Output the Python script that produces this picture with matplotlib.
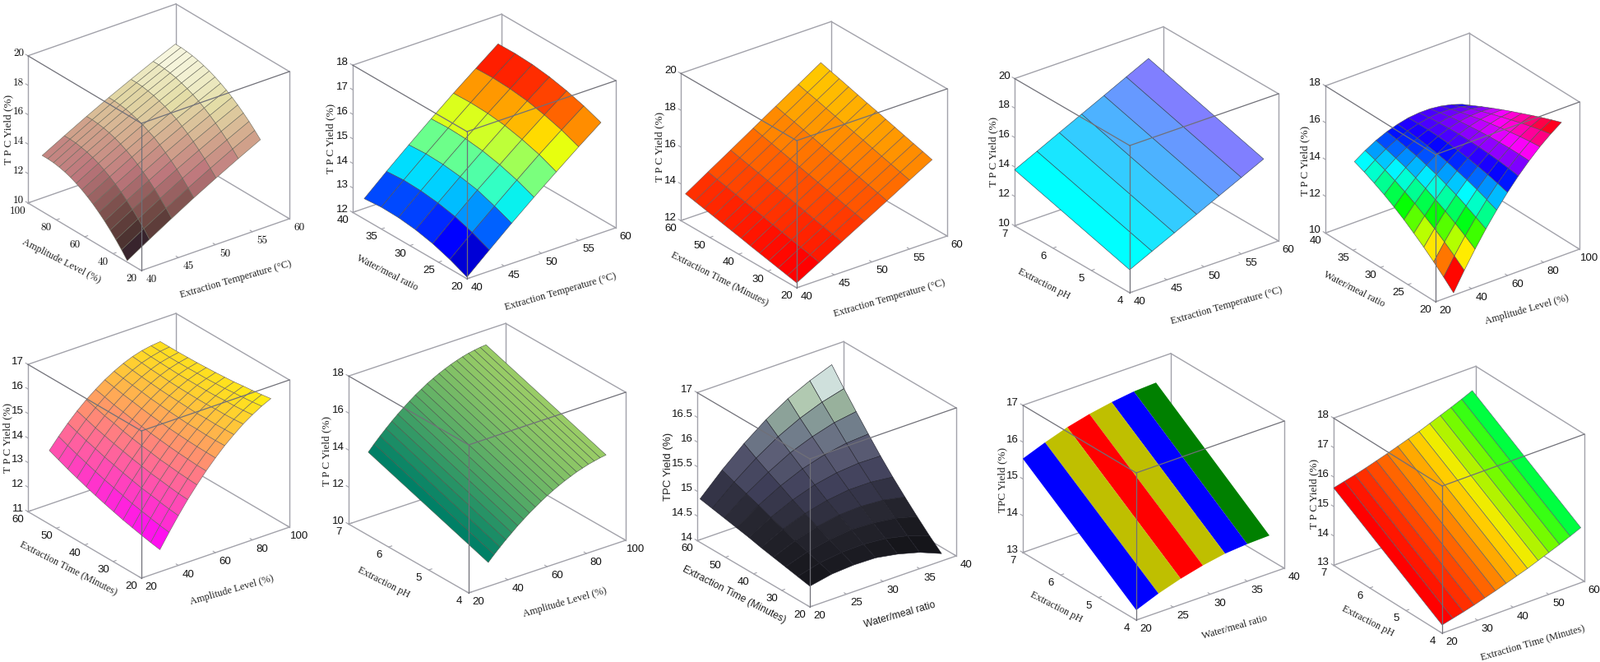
import numpy as np
import matplotlib
matplotlib.use('Agg')
import matplotlib.pyplot as plt
from matplotlib.colors import LinearSegmentedColormap, ListedColormap, Normalize, BoundaryNorm
from mpl_toolkits.mplot3d import proj3d

W, H = 1946, 805
CMR = ['cmr10', 'DejaVu Serif']
SERIF = ['Liberation Serif', 'DejaVu Serif']
SANS = ['Liberation Sans', 'DejaVu Sans']

TEMP = 'Extraction Temperature (°C)'
AMP = 'Amplitude Level (%)'
WATER = 'Water/meal ratio'
TIME = 'Extraction Time (Minutes)'
PH = 'Extraction pH'
ZLAB = 'T P C Yield (%)'

# ---- surface values, rows = y, columns = x ----
x1 = [40, 43, 46, 49, 52, 55, 58]
y1 = [30, 34, 38, 42, 46, 50, 54, 58, 62, 66, 70, 74, 78, 82, 86, 90]
z1 = [[10.10, 11.02, 11.91, 12.78, 13.60, 14.39, 15.15],
      [10.60, 11.51, 12.38, 13.22, 14.03, 14.81, 15.55],
      [11.06, 11.95, 12.81, 13.65, 14.44, 15.20, 15.93],
      [11.48, 12.36, 13.21, 14.03, 14.80, 15.55, 16.27],
      [11.87, 12.74, 13.57, 14.38, 15.15, 15.88, 16.59],
      [12.22, 13.08, 13.90, 14.70, 15.46, 16.18, 16.88],
      [12.54, 13.39, 14.20, 15.00, 15.74, 16.45, 17.14],
      [12.82, 13.66, 14.47, 15.27, 16.00, 16.69, 17.37],
      [13.07, 13.90, 14.70, 15.47, 16.20, 16.90, 17.57],
      [13.28, 14.11, 14.90, 15.67, 16.39, 17.08, 17.75],
      [13.46, 14.28, 15.07, 15.82, 16.54, 17.23, 17.89],
      [13.60, 14.42, 15.20, 15.95, 16.67, 17.36, 18.01],
      [13.70, 14.51, 15.30, 16.05, 16.76, 17.45, 18.10],
      [13.77, 14.58, 15.36, 16.11, 16.83, 17.51, 18.16],
      [13.80, 14.61, 15.40, 16.15, 16.86, 17.55, 18.20],
      [13.80, 14.61, 15.40, 16.15, 16.86, 17.55, 18.20]]

x2 = [40, 43, 46, 49, 52, 55, 58]
y2 = [20, 23, 26, 29, 32, 35, 38]
z2 = [[12.07, 12.86, 13.64, 14.39, 15.11, 15.82, 16.50],
      [12.38, 13.17, 13.93, 14.68, 15.41, 16.10, 16.77],
      [12.62, 13.41, 14.18, 14.90, 15.62, 16.31, 16.98],
      [12.78, 13.56, 14.32, 15.06, 15.78, 16.47, 17.14],
      [12.87, 13.65, 14.41, 15.15, 15.87, 16.56, 17.24],
      [12.89, 13.68, 14.44, 15.18, 15.90, 16.60, 17.28],
      [12.83, 13.63, 14.40, 15.15, 15.88, 16.58, 17.27]]

x3 = [40, 43, 46, 49, 52, 55, 58]
y3 = [20, 23.2, 26.4, 29.6, 32.8, 36, 39.2, 42.4, 45.6, 48.8, 52, 55.2, 58.4]
z3 = [[12.27, 12.96, 13.66, 14.35, 15.04, 15.74, 16.43],
      [12.38, 13.08, 13.78, 14.48, 15.18, 15.88, 16.58],
      [12.49, 13.20, 13.90, 14.61, 15.31, 16.02, 16.72],
      [12.60, 13.31, 14.02, 14.74, 15.45, 16.16, 16.87],
      [12.71, 13.43, 14.15, 14.87, 15.58, 16.30, 17.02],
      [12.82, 13.55, 14.27, 15.00, 15.72, 16.45, 17.17],
      [12.94, 13.67, 14.40, 15.13, 15.86, 16.59, 17.32],
      [13.05, 13.79, 14.52, 15.26, 15.99, 16.73, 17.46],
      [13.16, 13.90, 14.64, 15.39, 16.13, 16.87, 17.61],
      [13.27, 14.02, 14.77, 15.52, 16.26, 17.01, 17.76],
      [13.38, 14.14, 14.89, 15.65, 16.40, 17.16, 17.91],
      [13.49, 14.25, 15.01, 15.77, 16.53, 17.29, 18.05],
      [13.60, 14.37, 15.13, 15.90, 16.67, 17.43, 18.20]]

x4 = [40, 43, 46, 49, 52, 55, 58]
y4 = [4, 7]
z4 = [[11.56, 12.29, 13.01, 13.74, 14.47, 15.19, 15.92],
      [13.80, 14.53, 15.27, 16.00, 16.73, 17.47, 18.20]]

x5 = [30, 36, 42, 48, 54, 60, 66, 72, 78, 84, 90]
y5 = [20, 21.8, 23.6, 25.4, 27.2, 29, 30.8, 32.6, 34.4, 36.2, 38]
z5 = [[10.13, 11.14, 12.08, 12.96, 13.77, 14.51, 15.19, 15.80, 16.35, 16.83, 17.25],
      [10.65, 11.59, 12.46, 13.26, 14.00, 14.67, 15.28, 15.82, 16.30, 16.71, 17.05],
      [11.14, 12.01, 12.81, 13.54, 14.21, 14.81, 15.35, 15.82, 16.23, 16.57, 16.84],
      [11.60, 12.40, 13.13, 13.80, 14.40, 14.93, 15.40, 15.80, 16.14, 16.42, 16.62],
      [12.02, 12.75, 13.42, 14.02, 14.55, 15.03, 15.43, 15.77, 16.04, 16.25, 16.39],
      [12.42, 13.09, 13.69, 14.23, 14.70, 15.11, 15.45, 15.72, 15.93, 16.08, 16.16],
      [12.78, 13.39, 13.93, 14.41, 14.82, 15.17, 15.45, 15.66, 15.82, 15.90, 15.92],
      [13.11, 13.66, 14.15, 14.57, 14.92, 15.21, 15.43, 15.59, 15.68, 15.71, 15.67],
      [13.40, 13.90, 14.33, 14.69, 14.99, 15.23, 15.39, 15.50, 15.53, 15.51, 15.41],
      [13.67, 14.11, 14.49, 14.80, 15.04, 15.22, 15.34, 15.39, 15.37, 15.29, 15.14],
      [13.90, 14.29, 14.62, 14.88, 15.07, 15.21, 15.27, 15.27, 15.20, 15.07, 14.87]]

x6 = [30, 35, 40, 45, 50, 55, 60, 65, 70, 75, 80, 85, 90]
y6 = [20, 23.25, 26.5, 29.75, 33, 36.25, 39.5, 42.75, 46, 49.25, 52.5, 55.75, 59]
z6 = [[11.90, 12.48, 13.03, 13.55, 14.02, 14.46, 14.86, 15.23, 15.55, 15.85, 16.10, 16.32, 16.50],
      [11.97, 12.54, 13.08, 13.58, 14.05, 14.47, 14.87, 15.22, 15.54, 15.82, 16.06, 16.27, 16.44],
      [12.05, 12.61, 13.14, 13.63, 14.08, 14.50, 14.88, 15.22, 15.53, 15.80, 16.03, 16.23, 16.39],
      [12.14, 12.69, 13.21, 13.69, 14.13, 14.53, 14.90, 15.24, 15.54, 15.80, 16.02, 16.20, 16.35],
      [12.23, 12.77, 13.27, 13.74, 14.17, 14.57, 14.93, 15.24, 15.53, 15.78, 15.99, 16.16, 16.30],
      [12.34, 12.87, 13.36, 13.82, 14.24, 14.62, 14.96, 15.27, 15.55, 15.78, 15.98, 16.14, 16.27],
      [12.45, 12.97, 13.45, 13.89, 14.30, 14.67, 15.00, 15.30, 15.57, 15.79, 15.98, 16.12, 16.24],
      [12.57, 13.07, 13.55, 13.98, 14.37, 14.73, 15.05, 15.34, 15.59, 15.80, 15.98, 16.12, 16.22],
      [12.70, 13.19, 13.65, 14.07, 14.45, 14.80, 15.11, 15.38, 15.62, 15.82, 15.98, 16.11, 16.20],
      [12.84, 13.32, 13.77, 14.17, 14.55, 14.88, 15.18, 15.44, 15.66, 15.85, 16.00, 16.11, 16.19],
      [12.98, 13.45, 13.88, 14.27, 14.63, 14.95, 15.24, 15.49, 15.70, 15.88, 16.02, 16.11, 16.18],
      [13.14, 13.59, 14.01, 14.40, 14.74, 15.05, 15.32, 15.55, 15.75, 15.92, 16.04, 16.13, 16.18],
      [13.30, 13.74, 14.15, 14.52, 14.85, 15.14, 15.40, 15.62, 15.81, 15.96, 16.07, 16.14, 16.18]]

x7 = [30, 33, 36, 39, 42, 45, 48, 51, 54, 57, 60, 63, 66, 69, 72, 75, 78, 81, 84, 87, 90]
y7 = [4, 7]
z7 = [[11.29, 11.61, 11.91, 12.20, 12.47, 12.74, 12.98, 13.22, 13.43, 13.64, 13.83,
       14.01, 14.17, 14.32, 14.45, 14.58, 14.68, 14.78, 14.85, 14.92, 14.97],
      [13.53, 13.87, 14.19, 14.49, 14.78, 15.05, 15.30, 15.54, 15.77, 15.97, 16.17,
       16.34, 16.50, 16.64, 16.77, 16.88, 16.98, 17.06, 17.12, 17.17, 17.20]]

x8 = [20, 23, 26, 29, 32, 35, 38]
y8 = [20, 24.33, 28.67, 33, 37.33, 41.67, 46, 50.33, 54.67, 59]
z8 = [[14.42, 14.51, 14.54, 14.53, 14.45, 14.33, 14.15],
      [14.47, 14.59, 14.65, 14.66, 14.62, 14.52, 14.37],
      [14.52, 14.67, 14.76, 14.81, 14.79, 14.73, 14.61],
      [14.57, 14.75, 14.88, 14.96, 14.98, 14.95, 14.86],
      [14.62, 14.84, 15.00, 15.11, 15.17, 15.17, 15.12],
      [14.68, 14.93, 15.13, 15.28, 15.37, 15.41, 15.40],
      [14.73, 15.03, 15.27, 15.46, 15.59, 15.67, 15.70],
      [14.78, 15.12, 15.40, 15.64, 15.81, 15.94, 16.01],
      [14.83, 15.21, 15.54, 15.82, 16.04, 16.21, 16.33],
      [14.88, 15.31, 15.69, 16.02, 16.29, 16.50, 16.67]]

x9 = [20, 23, 26, 29, 32, 35, 38]
y9 = [4, 7]
z9 = [[13.27, 13.51, 13.70, 13.85, 13.96, 14.01, 14.03],
      [15.55, 15.78, 15.98, 16.13, 16.24, 16.32, 16.35]]

x10 = [20, 23, 26, 29, 32, 35, 38, 41, 44, 47, 50, 53, 56, 59]
y10 = [4, 7]
z10 = [[13.28, 13.37, 13.46, 13.56, 13.67, 13.78, 13.90, 14.02, 14.14, 14.28, 14.42, 14.56, 14.71, 14.87],
       [15.63, 15.72, 15.81, 15.91, 16.02, 16.13, 16.25, 16.37, 16.49, 16.63, 16.77, 16.91, 17.06, 17.22]]

# tick labels
temp_ticks = [40, 45, 50, 55, 60]
amp_ticks = [20, 40, 60, 80, 100]
water_ticks = [20, 25, 30, 35, 40]
time_ticks = [20, 30, 40, 50, 60]
ph_ticks = [4, 5, 6, 7]

# colour maps
cm_pink = LinearSegmentedColormap.from_list('p1', [(0, '#14005a'), (.07, '#3c2828'), (.25, '#734b46'),
                                                   (.45, '#be787d'), (.62, '#d2a58c'), (.82, '#e4dea8'), (1, '#fafae8')])
cm_grey = LinearSegmentedColormap.from_list('p8', [(0, '#15151a'), (.2, '#262630'), (.4, '#40405a'), (.6, '#5e6078'),
                                                   (.76, '#7a8c94'), (.9, '#a5c09f'), (1, '#cfe0dc')])
cm_rg = LinearSegmentedColormap.from_list('p10', [(0, '#ff0000'), (.3, '#ff7000'), (.58, '#ffea00'), (.85, '#50ff00'), (1, '#00ff40')])
cm_bands = ListedColormap(['#0000ff', '#bfbf00', '#ff0000', '#bfbf00', '#0000ff', '#008000'])

# x/y/z data, ticks, labels, colours, edge colour, tick font, label font
panels = [
    dict(x=x1, y=y1, z=z1, xt=temp_ticks, yt=amp_ticks, zt=[10, 12, 14, 16, 18, 20], xl=TEMP, yl=AMP, zl=ZLAB,
         cmap=cm_pink, norm=Normalize(10.3, 18.1), ec='#6a6a5c', tf=CMR, lf=SERIF),
    dict(x=x2, y=y2, z=z2, xt=temp_ticks, yt=water_ticks, zt=[12, 13, 14, 15, 16, 17, 18], xl=TEMP, yl=WATER, zl=ZLAB,
         cmap='jet', norm=Normalize(12.2, 17.6), ec='#505050', tf=SANS, lf=SERIF),
    dict(x=x3, y=y3, z=z3, xt=temp_ticks, yt=time_ticks, zt=[12, 14, 16, 18, 20], xl=TEMP, yl=TIME, zl=ZLAB,
         cmap='autumn', norm=Normalize(12.7, 19.2), ec='#705858', tf=SANS, lf=SERIF),
    dict(x=x4, y=y4, z=z4, xt=temp_ticks, yt=ph_ticks, zt=[10, 12, 14, 16, 18, 20], xl=TEMP, yl=PH, zl=ZLAB,
         cmap='cool', norm=Normalize(13.05, 20.3), ec='#304050', tf=SANS, lf=SERIF),
    dict(x=x5, y=y5, z=z5, xt=amp_ticks, yt=water_ticks, zt=[10, 12, 14, 16, 18], xl=AMP, yl=WATER, zl=ZLAB,
         cmap='hsv', norm=Normalize(10.85, 17.0), ec='#505050', tf=SANS, lf=SERIF),
    dict(x=x6, y=y6, z=z6, xt=amp_ticks, yt=time_ticks, zt=[11, 12, 13, 14, 15, 16, 17], xl=AMP, yl=TIME, zl=ZLAB,
         cmap='spring', norm=Normalize(11.9, 16.8), ec='#6a6060', tf=SANS, lf=SERIF),
    dict(x=x7, y=y7, z=z7, xt=amp_ticks, yt=ph_ticks, zt=[10, 12, 14, 16, 18], xl=AMP, yl=PH, zl=ZLAB,
         cmap='summer', norm=Normalize(12.58, 18.4), ec='#4a5a4a', tf=SANS, lf=SERIF),
    dict(x=x8, y=y8, z=z8, xt=water_ticks, yt=time_ticks, zt=[14, 14.5, 15, 15.5, 16, 16.5, 17], xl=WATER, yl=TIME,
         zl='TPC Yield (%)', cmap=cm_grey, norm=Normalize(14.45, 16.4), ec='#20202a', tf=SANS, lf=SANS),
    dict(x=x9, y=y9, z=z9, xt=water_ticks, yt=ph_ticks, zt=[13, 14, 15, 16, 17], xl=WATER, yl=PH, zl='TPC Yield (%)',
         cmap=cm_bands, norm=BoundaryNorm([14.4, 14.64, 14.83, 14.98, 15.09, 15.155, 15.3], 6), ec='none', tf=SANS, lf=SERIF),
    dict(x=x10, y=y10, z=z10, xt=time_ticks, yt=ph_ticks, zt=[13, 14, 15, 16, 17, 18], xl=TIME, yl=PH, zl=ZLAB,
         cmap=cm_rg, norm=Normalize(14.5, 15.97), ec='#506070', tf=SANS, lf=SERIF),
]

# box corners in pixels: x left, x front, x right, y left top, y left bottom, y front bottom, y right bottom
boxes = [(34, 172, 352, 67, 246, 329, 266), (429, 568, 749, 78, 257, 339, 277),
         (828, 969, 1152, 89, 268, 350, 287), (1234, 1374, 1555, 94, 273, 356, 293),
         (1612, 1746, 1921, 105, 284, 367, 303), (34, 172, 352, 442, 621, 703, 641),
         (424, 570, 761, 458, 638, 721, 657), (848, 985, 1163, 477, 657, 738, 676),
         (1244, 1382, 1562, 493, 672, 754, 691), (1622, 1754, 1927, 510, 689, 770, 707)]

# centres of x label, y label, z label in pixels
label_pos = [((287, 340), (75, 318), (10, 157)), ((682, 355), (471, 332), (402, 168)),
             ((1082, 363), (875, 340), (802, 178)), ((1492, 372), (1270, 345), (1208, 184)),
             ((1857, 377), (1647, 352), (1587, 195)), ((282, 718), (83, 692), (9, 532)),
             ((687, 733), (467, 708), (397, 548)), ((1094, 748), (893, 723), (813, 567)),
             ((1502, 763), (1285, 738), (1219, 583)), ((1864, 782), (1664, 755), (1598, 600))]

BOX = '#a2a2aa'
fig = plt.figure(figsize=(W / 100, H / 100), dpi=100, facecolor='white')


def project(ax, x, y, z):
    vx, vy, _ = proj3d.proj_transform(x, y, z, ax.get_proj())
    return ax.transData.transform((vx, vy))


def tick_text(ax, pos, dx, dy, s, font, ha):
    px = project(ax, *pos)
    fig.text((px[0] + dx) / W, (px[1] + dy) / H, str(s), family=font, fontsize=9.5, color='#111111',
             ha=ha, va='center')


for p, (xl, xf, xr, ylt, ylb, yfb, yrb), lab in zip(panels, boxes, label_pos):
    ax = fig.add_axes([0, 0, 400 / W, 400 / H], projection='3d', proj_type='ortho', computed_zorder=False)
    ax.set_axis_off()
    ax.patch.set_visible(False)

    x0, x1_ = p['xt'][0], p['xt'][-1]
    y0, y1_ = p['yt'][0], p['yt'][-1]
    z0, z1_ = p['zt'][0], p['zt'][-1]
    ax.set_xlim(x0, x1_, view_margin=0)
    ax.set_ylim(y0, y1_, view_margin=0)
    ax.set_zlim(z0, z1_, view_margin=0)

    # view from the box corners
    az = np.arctan((xf - xl) / (xr - xf))
    a = (xr - xf) / np.cos(az)
    el = np.arcsin((yfb - yrb) / (a * np.sin(az)))
    c = (ylb - ylt) / np.cos(el)
    ax.view_init(elev=np.degrees(el), azim=-90 - np.degrees(az))
    ax.set_box_aspect((a, a, c))

    # size and place the axes so the box lands on its corners
    ax.apply_aspect()
    l = project(ax, x0, y1_, z0)
    r = project(ax, x1_, y0, z0)
    S = 400 * (xr - xl) / (r[0] - l[0])
    ax.set_position([0, 0, S / W, S / H])
    ax.apply_aspect()
    f = project(ax, x0, y0, z0)
    ax.set_position([(xf - f[0]) / W, ((H - yfb) - f[1]) / H, S / W, S / H])
    ax.apply_aspect()

    # back of the box
    for xs, ys, zs in [((x0, x1_), (y1_, y1_), (z1_, z1_)), ((x1_, x1_), (y0, y1_), (z1_, z1_)),
                       ((x0, x1_), (y1_, y1_), (z0, z0)), ((x1_, x1_), (y0, y1_), (z0, z0)),
                       ((x1_, x1_), (y1_, y1_), (z0, z1_)), ((x0, x0), (y1_, y1_), (z0, z1_)),
                       ((x1_, x1_), (y0, y0), (z0, z1_)), ((x0, x1_), (y0, y0), (z0, z0)),
                       ((x0, x0), (y0, y1_), (z0, z0))]:
        ax.plot(xs, ys, zs, color=BOX, lw=1.0, zorder=1)

    X, Y = np.meshgrid(p['x'], p['y'])
    ax.plot_surface(X, Y, np.array(p['z']), rstride=1, cstride=1, cmap=p['cmap'], norm=p['norm'], shade=False,
                    edgecolor=p['ec'], linewidth=0.4, antialiased=True, zorder=2)

    # front of the box shows through the surface
    for xs, ys, zs in [((x0, x0), (y0, y0), (z0, z1_)), ((x0, x1_), (y0, y0), (z1_, z1_)),
                       ((x0, x0), (y0, y1_), (z1_, z1_))]:
        ax.plot(xs, ys, zs, color='#707078', lw=0.9, zorder=3)

    # ticks and tick labels
    dx_, dy_ = (x1_ - x0) * 0.02, (y1_ - y0) * 0.02
    for t in p['xt']:
        ax.plot((t, t), (y0, y0 + dy_), (z0, z0), color=BOX, lw=0.8, zorder=1)
        tick_text(ax, (t, y0, z0), 12, -11, t, p['tf'], 'center')
    for t in p['yt']:
        ax.plot((x0, x0 + dx_), (t, t), (z0, z0), color=BOX, lw=0.8, zorder=1)
        tick_text(ax, (x0, t, z0), -12, -10, t, p['tf'], 'center')
    for t in p['zt']:
        ax.plot((x0, x0), (y1_, y1_ + dy_), (t, t), color=BOX, lw=0.8, zorder=1)
        tick_text(ax, (x0, y1_, t), -5, 3, t, p['tf'], 'right')

    # axis titles
    for (px, py), s, rot, size in zip(lab, (p['xl'], p['yl'], p['zl']), (16, -27, 90), (8.8, 8.8, 9.5)):
        fig.text(px / W, 1 - py / H, s, family=p['lf'], fontsize=size, color='#222222', rotation=rot,
                 rotation_mode='anchor', ha='center', va='center')

fig.savefig('out.png', dpi=100)
